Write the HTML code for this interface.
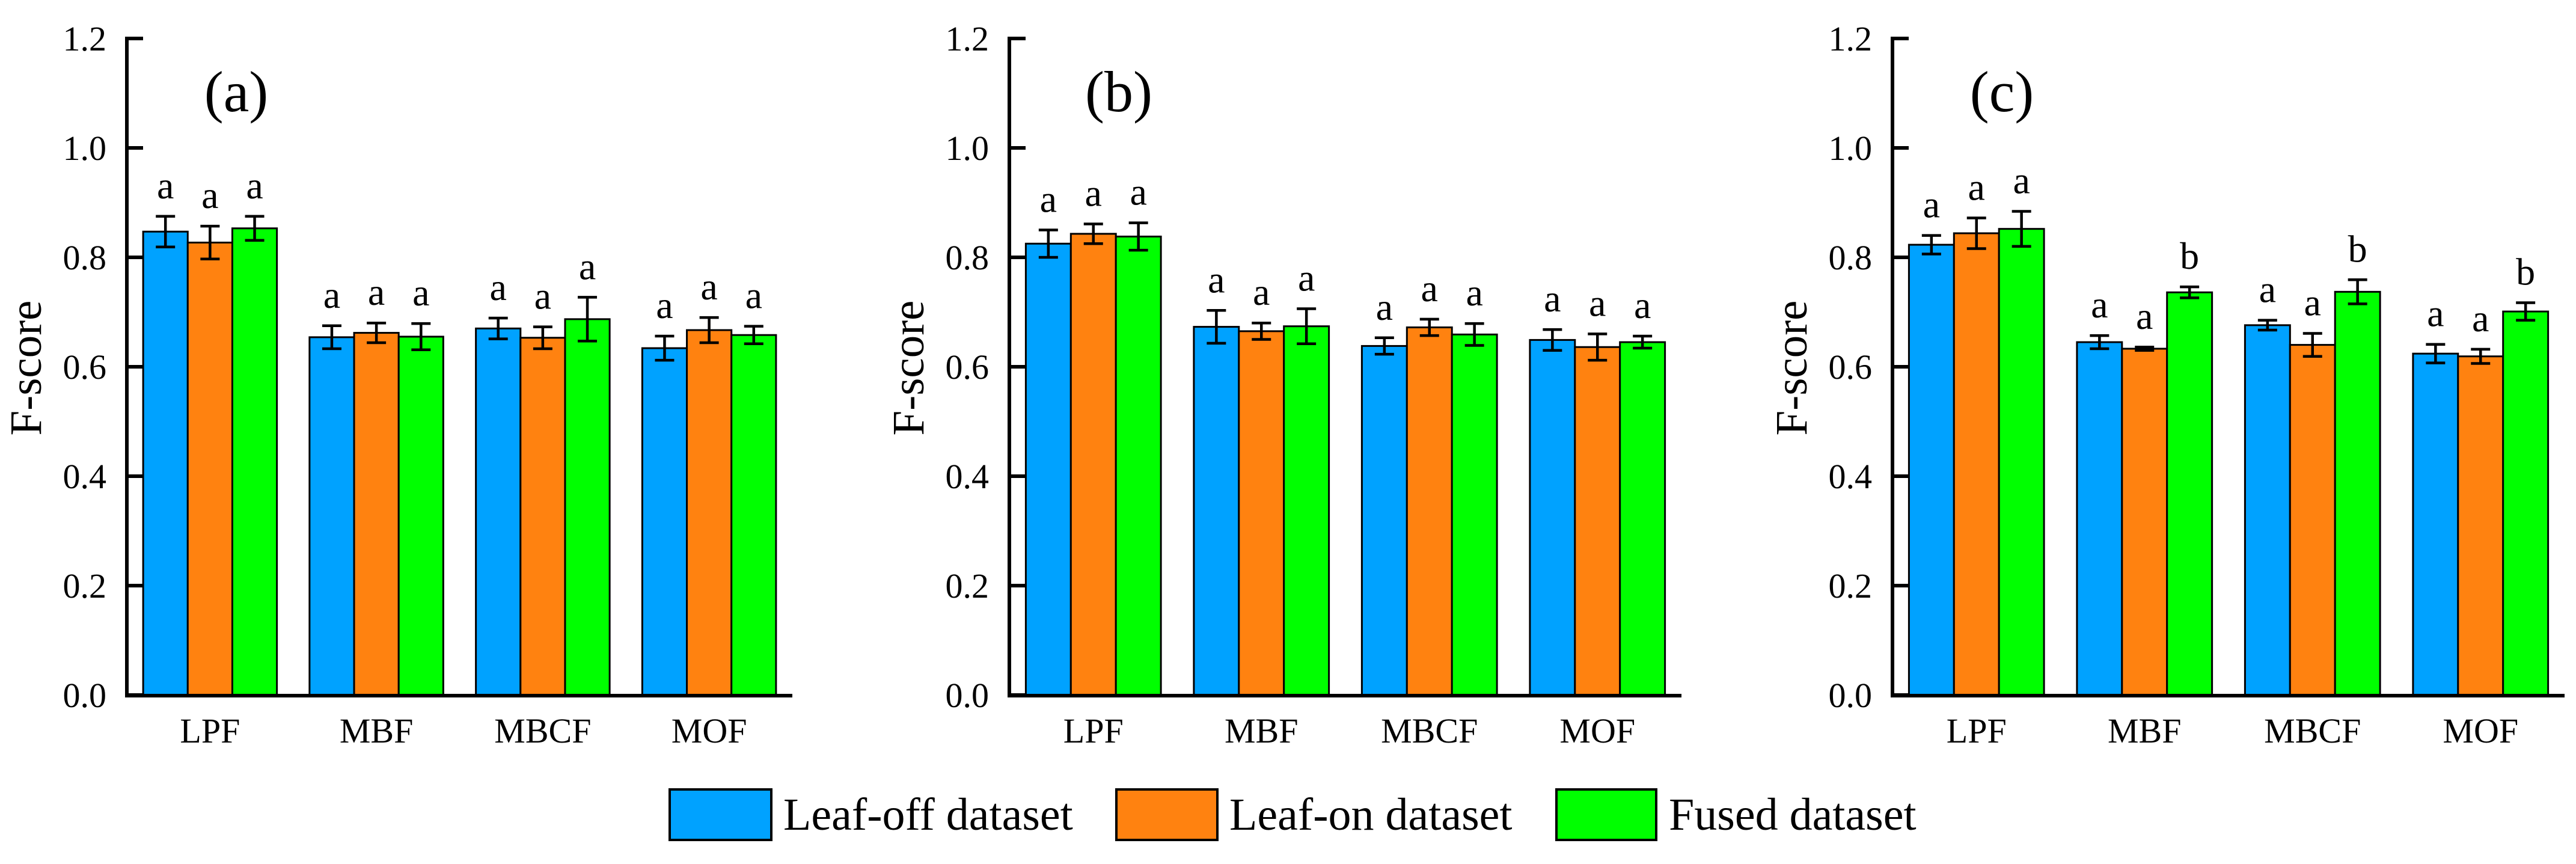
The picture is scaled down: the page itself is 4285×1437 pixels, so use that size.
<!DOCTYPE html>
<html><head><meta charset="utf-8">
<style>
html,body{margin:0;padding:0;background:#fff;}
svg{display:block;font-family:"Liberation Serif","Times New Roman",serif;}
</style></head>
<body>
<svg id="chart" width="4285" height="1437" viewBox="0 0 4285 1437" xmlns="http://www.w3.org/2000/svg">
<g id="legend">
  <g>
    <rect x="1114" y="1313" width="169" height="84" fill="#00A2FF" stroke="#000" stroke-width="4"/>
    <text x="1303" y="1380" font-size="76">Leaf-off dataset</text>
  </g>
  <g>
    <rect x="1857" y="1313" width="168" height="84" fill="#FF8210" stroke="#000" stroke-width="4"/>
    <text x="2045" y="1380" font-size="76">Leaf-on dataset</text>
  </g>
  <g>
    <rect x="2589" y="1313" width="166" height="84" fill="#00FF00" stroke="#000" stroke-width="4"/>
    <text x="2776" y="1380" font-size="76">Fused dataset</text>
  </g>
</g>
</svg>
<script>
const categories = ["LPF","MBF","MBCF","MOF"];
const seriesNames = ["Leaf-off dataset","Leaf-on dataset","Fused dataset"];
const yTicks = [0.0,0.2,0.4,0.6,0.8,1.0,1.2];
const yTickLabels = ["0.0","0.2","0.4","0.6","0.8","1.0","1.2"];
const panelLabels = ["(a)","(b)","(c)"];
// panel a: [leaf-off, leaf-on, fused] per category
const aLeafOff = [0.847,0.654,0.670,0.634];
const aLeafOn  = [0.827,0.662,0.653,0.667];
const aFused   = [0.853,0.655,0.687,0.658];
const aErrOff  = [0.028,0.021,0.019,0.022];
const aErrOn   = [0.030,0.018,0.020,0.023];
const aErrFus  = [0.022,0.024,0.040,0.016];
const aSig     = [["a","a","a"],["a","a","a"],["a","a","a"],["a","a","a"]];
const bLeafOff = [0.825,0.673,0.638,0.649];
const bLeafOn  = [0.843,0.665,0.672,0.636];
const bFused   = [0.838,0.674,0.659,0.645];
const bErrOff  = [0.025,0.030,0.015,0.019];
const bErrOn   = [0.018,0.015,0.015,0.024];
const bErrFus  = [0.025,0.032,0.020,0.011];
const bSig     = [["a","a","a"],["a","a","a"],["a","a","a"],["a","a","a"]];
const cLeafOff = [0.823,0.645,0.676,0.624];
const cLeafOn  = [0.844,0.633,0.640,0.619];
const cFused   = [0.852,0.736,0.737,0.701];
const cErrOff  = [0.017,0.012,0.009,0.017];
const cErrOn   = [0.028,0.003,0.021,0.013];
const cErrFus  = [0.032,0.010,0.022,0.016];
const cSig     = [["a","a","a"],["a","a","b"],["a","a","b"],["a","a","b"]];

const colors = ["#00A2FF","#FF8210","#00FF00"];
const panels = [
  {id:"a", x0:211, x1:1318, vals:[aLeafOff,aLeafOn,aFused], errs:[aErrOff,aErrOn,aErrFus], sig:aSig},
  {id:"b", x0:1679, x1:2797, vals:[bLeafOff,bLeafOn,bFused], errs:[bErrOff,bErrOn,bErrFus], sig:bSig},
  {id:"c", x0:3148, x1:4266, vals:[cLeafOff,cLeafOn,cFused], errs:[cErrOff,cErrOn,cErrFus], sig:cSig}
];
const NS = "http://www.w3.org/2000/svg";
const svg = document.getElementById("chart");
const Y0 = 1156, Y12 = 64;
function yScale(v){ return Y0 - (v/1.2)*(Y0-Y12); }
function mk(tag, attrs, parent){
  const e = document.createElementNS(NS, tag);
  for (const k in attrs) e.setAttribute(k, attrs[k]);
  parent.appendChild(e); return e;
}
panels.forEach((p, pi) => {
  const g = mk("g", {}, svg);
  
  
  const catW = (p.x1 - p.x0) / categories.length;
  const barW = catW * 0.268;
  function xBand(ci){ return p.x0 + catW*ci + catW/2; }
  // bars
  categories.forEach((cat, ci) => {
    const cx = xBand(ci);
    for (let si = 0; si < 3; si++) {
      const v = p.vals[si][ci], e = p.errs[si][ci];
      const bx = cx - 1.5*barW + si*barW;
      const r = mk("rect", {x:bx, y:yScale(v), width:barW, height:Y0-yScale(v), fill:colors[si], stroke:"#000", "stroke-width":3}, g);
      
      
      const mx = bx + barW/2;
      const eg = mk("g", {stroke:"#000", "stroke-width":4.5}, g);
      
      
      mk("line", {x1:mx, x2:mx, y1:yScale(v+e), y2:yScale(v-e)}, eg);
      mk("line", {x1:mx-16, x2:mx+16, y1:yScale(v+e), y2:yScale(v+e)}, eg);
      mk("line", {x1:mx-16, x2:mx+16, y1:yScale(v-e), y2:yScale(v-e)}, eg);
      const t = mk("text", {x:mx, y:yScale(v+e)-30, "font-size":64, "text-anchor":"middle"}, g);
      t.textContent = p.sig[ci][si];
      
      
    }
    const cl = mk("text", {x:cx, y:1235, "font-size":58, "text-anchor":"middle"}, g);
    cl.textContent = cat;
    
    
  });
  // axes
  const ax = mk("g", {stroke:"#000", "stroke-width":6, fill:"none"}, g);
  
  
  mk("line", {x1:p.x0, x2:p.x0, y1:Y12-3, y2:Y0+4}, ax);
  mk("line", {x1:p.x0-3, x2:p.x1, y1:Y0+1, y2:Y0+1}, ax);
  yTicks.forEach((tv, ti) => {
    mk("line", {x1:p.x0, x2:p.x0+27, y1:yScale(tv), y2:yScale(tv)}, ax);
    const tl = mk("text", {x:p.x0-34, y:yScale(tv)+20, "font-size":58, "text-anchor":"end"}, g);
    tl.textContent = yTickLabels[ti];
    
    
  });
  const yt = mk("text", {x:0, y:0, "font-size":75, "text-anchor":"middle", transform:"translate(" + (p.x0-143) + ",612) rotate(-90)"}, g);
  yt.textContent = "F-score";
  
  
  const pl = mk("text", {x:p.x0+182, y:185, "font-size":96, "text-anchor":"middle"}, g);
  pl.textContent = panelLabels[pi];
  
  
});
</script>
</body></html>
